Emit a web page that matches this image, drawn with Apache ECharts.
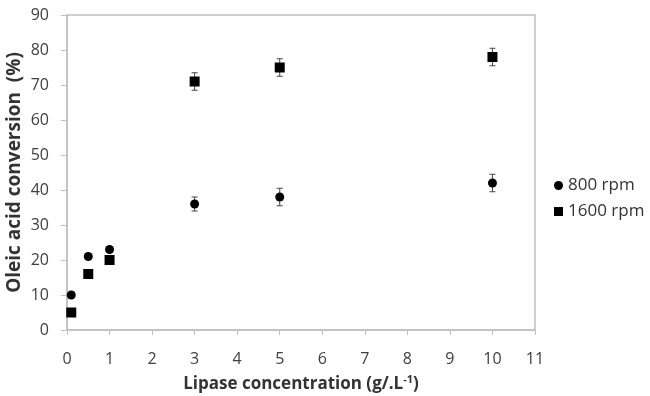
<!DOCTYPE html>
<html><head><meta charset="utf-8">
<script src="https://cdn.jsdelivr.net/npm/echarts@6/dist/echarts.min.js"></script>
<style>html,body{margin:0;padding:0;background:#fff}#c{width:650px;height:396px}</style>
</head><body><div id="c"></div>
<script>
var xVals = [0.1, 0.5, 1, 3, 5, 10];
var rpm800 = [10, 21, 23, 36, 38, 42];
var rpm1600 = [5, 16, 20, 71, 75, 78];
var err800 = [0.8, 0.8, 0.8, 2, 2.5, 2.5];
var err1600 = [0.8, 0.8, 0.8, 2.5, 2.5, 2.5];
var xTicks = [0,1,2,3,4,5,6,7,8,9,10,11];
var yTicks = [0,10,20,30,40,50,60,70,80,90];

var chart = echarts.init(document.getElementById('c'));
function errData(vals, errs){ return xVals.map(function(x,i){ return [x, vals[i]-errs[i], vals[i]+errs[i]]; }); }
function errRender(params, api){
  var lo = api.coord([api.value(0), api.value(1)]);
  var hi = api.coord([api.value(0), api.value(2)]);
  var w = 3;
  return {type:'group', children:[
    {type:'line', shape:{x1:lo[0],y1:lo[1],x2:hi[0],y2:hi[1]}, style:{stroke:'#444',lineWidth:1}},
    {type:'line', shape:{x1:lo[0]-w,y1:lo[1],x2:lo[0]+w,y2:lo[1]}, style:{stroke:'#444',lineWidth:1}},
    {type:'line', shape:{x1:hi[0]-w,y1:hi[1],x2:hi[0]+w,y2:hi[1]}, style:{stroke:'#444',lineWidth:1}}
  ]};
}
var font = '"Open Sans", "Noto Sans", sans-serif';
chart.setOption({
  animation:false,
  grid:{left:67, top:15, width:468, height:315, show:true, borderColor:'#c0c0c0', borderWidth:1.5,
        containLabel:false, outerBoundsMode:'none'},
  legend:{
    orient:'vertical', left:549, top:172, itemGap:9,
    itemWidth:9, itemHeight:9,
    textStyle:{fontFamily:font, fontSize:17, color:'#333'},
    data:[{name:'800 rpm', icon:'circle'},{name:'1600 rpm', icon:'rect'}]
  },
  xAxis:{
    type:'value', min:0, max:11, interval:1,
    axisLine:{lineStyle:{color:'#c0c0c0', width:1.5}},
    axisTick:{show:true, length:5, lineStyle:{color:'#c0c0c0'}},
    splitLine:{show:false},
    axisLabel:{fontFamily:font, fontSize:16, color:'#404040', margin:21},
    name:'{b|Lipase concentration (g/.L}{s|-1}{b|)}',
    nameLocation:'middle', nameGap:44,
    nameTextStyle:{rich:{
      b:{fontFamily:font, fontSize:17, fontWeight:'bold', color:'#333'},
      s:{fontFamily:font, fontSize:11, fontWeight:'bold', color:'#333', verticalAlign:'top', padding:[0,0,9,0]}
    }}
  },
  yAxis:{
    type:'value', min:0, max:90, interval:10,
    axisLine:{show:true, lineStyle:{color:'#c0c0c0', width:1.5}},
    axisTick:{show:true, length:6, lineStyle:{color:'#c0c0c0'}},
    splitLine:{show:false},
    axisLabel:{fontFamily:font, fontSize:16, color:'#404040', margin:18},
    name:'Oleic acid conversion  (%)', nameLocation:'middle', nameGap:43, nameMoveOverlap:false,
    nameTextStyle:{fontFamily:font, fontSize:19, fontWeight:'bold', color:'#333'}
  },
  series:[
    {type:'custom', renderItem:errRender, data:errData(rpm800, err800), z:1, silent:true},
    {type:'custom', renderItem:errRender, data:errData(rpm1600, err1600), z:1, silent:true},
    {name:'800 rpm', type:'scatter', symbol:'circle', symbolSize:9, itemStyle:{color:'#000', opacity:1},
     data:xVals.map(function(x,i){return [x, rpm800[i]];}), z:3},
    {name:'1600 rpm', type:'scatter', symbol:'rect', symbolSize:10, itemStyle:{color:'#000', opacity:1},
     data:xVals.map(function(x,i){return [x, rpm1600[i]];}), z:3}
  ]
});
</script></body></html>
